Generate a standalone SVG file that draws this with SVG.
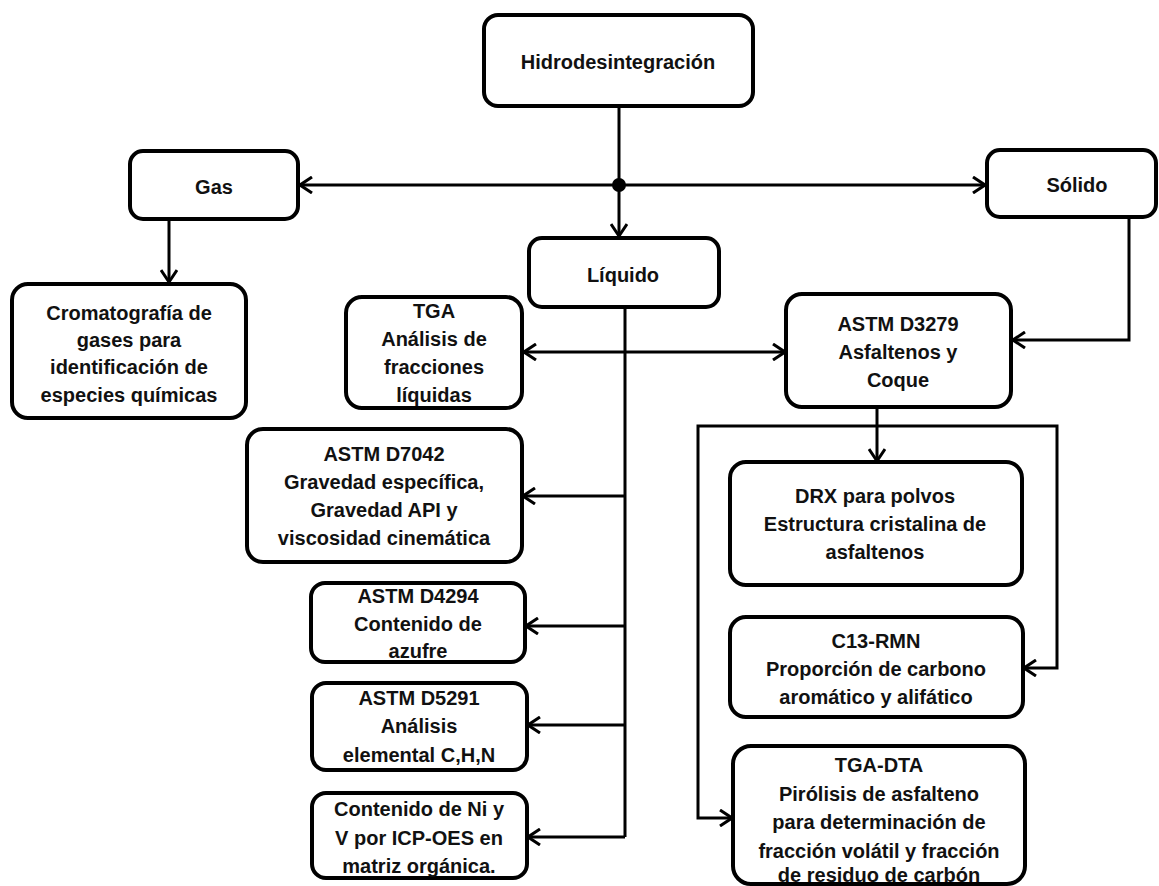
<svg xmlns="http://www.w3.org/2000/svg" width="1159" height="886" viewBox="0 0 1159 886">
<defs>
<style>
.box{fill:#fff;stroke:#000;stroke-width:4}
.ln{fill:none;stroke:#000;stroke-width:3}
text{font-family:"Liberation Sans",Arial,sans-serif;font-weight:bold;font-size:20px;text-anchor:middle;fill:#111}
</style>
<marker id="arr" viewBox="0 0 14 18" refX="13" refY="9" markerWidth="14" markerHeight="18" markerUnits="userSpaceOnUse" orient="auto-start-reverse">
<path d="M1,1 L13,9 L1,17" fill="none" stroke="#000" stroke-width="3"/>
</marker>
</defs>
<rect width="1159" height="886" fill="#fff"/>
<g id="connectors">
<line class="ln" x1="619" y1="106" x2="619" y2="236" marker-end="url(#arr)"/>
<line class="ln" x1="619" y1="185" x2="300" y2="185" marker-end="url(#arr)"/>
<line class="ln" x1="619" y1="185" x2="985" y2="185" marker-end="url(#arr)"/>
<circle cx="619" cy="185" r="7" fill="#000"/>
<line class="ln" x1="169" y1="219" x2="169" y2="282" marker-end="url(#arr)"/>
<polyline class="ln" points="1129,217 1129,340 1013,340" marker-end="url(#arr)"/>
<line class="ln" x1="625" y1="307" x2="625" y2="837"/>
<line class="ln" x1="524" y1="352" x2="785" y2="352" marker-start="url(#arr)" marker-end="url(#arr)"/>
<line class="ln" x1="625" y1="496" x2="523" y2="496" marker-end="url(#arr)"/>
<line class="ln" x1="625" y1="626" x2="526" y2="626" marker-end="url(#arr)"/>
<line class="ln" x1="625" y1="725" x2="528" y2="725" marker-end="url(#arr)"/>
<line class="ln" x1="625" y1="837" x2="528" y2="837" marker-end="url(#arr)"/>
<line class="ln" x1="877" y1="407" x2="877" y2="461" marker-end="url(#arr)"/>
<path class="ln" d="M732,818 H698 V426 H1057 V668 H1024" marker-start="url(#arr)" marker-end="url(#arr)"/>
</g>
<g id="hidro"><rect class="box" x="484" y="15" width="269" height="91" rx="14"/><text x="618" y="69">Hidrodesintegración</text></g>
<g id="gas"><rect class="box" x="130" y="151" width="168" height="68" rx="13"/><text x="214" y="194">Gas</text></g>
<g id="solido"><rect class="box" x="987" y="150" width="169" height="67" rx="13"/><text x="1077" y="192">Sólido</text></g>
<g id="liquido"><rect class="box" x="529" y="238" width="190" height="69" rx="13"/><text x="623" y="282">Líquido</text></g>
<g id="cromatografia"><rect class="box" x="12" y="284" width="234" height="134" rx="16"/>
<text x="129" y="320">Cromatografía de</text><text x="129" y="347">gases para</text><text x="129" y="374">identificación de</text><text x="129" y="402">especies químicas</text></g>
<g id="tga"><rect class="box" x="346" y="297" width="176" height="111" rx="16"/>
<text x="434" y="318">TGA</text><text x="434" y="346">Análisis de</text><text x="434" y="374">fracciones</text><text x="434" y="402">líquidas</text></g>
<g id="d7042"><rect class="box" x="247" y="429" width="275" height="133" rx="16"/>
<text x="384" y="461">ASTM D7042</text><text x="384" y="489">Gravedad específica,</text><text x="384" y="517">Gravedad API y</text><text x="384" y="545">viscosidad cinemática</text></g>
<g id="d4294"><rect class="box" x="311" y="583" width="214" height="79" rx="14"/>
<text x="418" y="603">ASTM D4294</text><text x="418" y="631">Contenido de</text><text x="418" y="658">azufre</text></g>
<g id="d5291"><rect class="box" x="312" y="683" width="215" height="87" rx="14"/>
<text x="419" y="705">ASTM D5291</text><text x="419" y="733">Análisis</text><text x="419" y="762">elemental C,H,N</text></g>
<g id="nivicp"><rect class="box" x="312" y="793" width="215" height="85" rx="14"/>
<text x="419" y="816">Contenido de Ni y</text><text x="419" y="845">V por ICP-OES en</text><text x="419" y="873">matriz orgánica.</text></g>
<g id="d3279"><rect class="box" x="786" y="294" width="225" height="113" rx="16"/>
<text x="898" y="331">ASTM D3279</text><text x="898" y="359">Asfaltenos y</text><text x="898" y="387">Coque</text></g>
<g id="drx"><rect class="box" x="730" y="462" width="292" height="123" rx="16"/>
<text x="875" y="503">DRX para polvos</text><text x="875" y="531">Estructura cristalina de</text><text x="875" y="559">asfaltenos</text></g>
<g id="c13"><rect class="box" x="730" y="617" width="293" height="100" rx="16"/>
<text x="876" y="648">C13-RMN</text><text x="876" y="676">Proporción de carbono</text><text x="876" y="704">aromático y alifático</text></g>
<g id="tgadta"><rect class="box" x="733" y="746" width="292" height="138" rx="18"/>
<text x="879" y="772">TGA-DTA</text><text x="879" y="801">Pirólisis de asfalteno</text><text x="879" y="829">para determinación de</text><text x="879" y="858">fracción volátil y fracción</text><text x="879" y="882">de residuo de carbón</text></g>
</svg>
